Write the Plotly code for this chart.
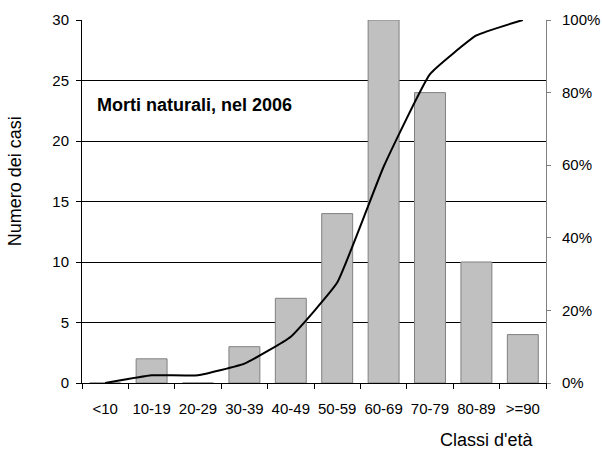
import numpy as np
import plotly.graph_objects as go

# Age classes and number of natural deaths in 2006
classi = ["<10", "10-19", "20-29", "30-39", "40-49", "50-59", "60-69", "70-79", "80-89", ">=90"]
casi = [0, 2, 0, 3, 7, 14, 30, 24, 10, 4]

# Cumulative share of cases
cumulata = np.cumsum(casi) / np.sum(casi)

FONT = "Liberation Sans, Arial, sans-serif"

fig = go.Figure()

fig.add_trace(go.Bar(
    x=classi, y=casi,
    marker=dict(color="#c0c0c0", line=dict(color="#808080", width=1)),
    showlegend=False, hoverinfo="x+y",
))

fig.add_trace(go.Scatter(
    x=classi, y=cumulata, yaxis="y2", mode="lines",
    line=dict(color="black", width=2, shape="spline", smoothing=0.35),
    showlegend=False,
))

fig.update_layout(
    width=602, height=464,
    margin=dict(l=82, r=56, t=20, b=81),
    paper_bgcolor="white", plot_bgcolor="white",
    font=dict(family=FONT, size=15, color="black"),
    bargap=0.333,
    xaxis=dict(
        type="category", showline=True, linecolor="black", linewidth=1,
        ticks="outside", tickson="boundaries", ticklen=5, tickcolor="black",
        showgrid=False, ticklabelstandoff=12, tickangle=0, automargin=False,
        tickfont=dict(size=15),
    ),
    yaxis=dict(
        range=[0, 30], dtick=5, showline=True, linecolor="black", linewidth=1,
        ticks="outside", ticklen=5, tickcolor="black", automargin=False,
        showgrid=True, gridcolor="black", gridwidth=1, zeroline=False,
        ticklabelstandoff=4,
    ),
    yaxis2=dict(
        range=[0, 1], dtick=0.2, tickformat=".0%", overlaying="y", side="right",
        showline=True, linecolor="#808080", linewidth=1, automargin=False,
        ticks="outside", ticklen=4, tickcolor="#808080",
        showgrid=False, zeroline=False, ticklabelstandoff=8,
    ),
    annotations=[
        dict(text="<b>Morti naturali, nel 2006</b>", xref="paper", yref="paper",
             x=0.028, y=0.767, xanchor="left", yanchor="middle", showarrow=False,
             font=dict(size=18)),
        dict(text="Numero dei casi", xref="paper", yref="paper", textangle=-90,
             x=-0.144, y=0.556, xanchor="center", yanchor="middle", showarrow=False,
             font=dict(size=18)),
        dict(text="Classi d'età", xref="paper", yref="paper",
             x=0.976, y=-0.157, xanchor="right", yanchor="middle", showarrow=False,
             font=dict(size=18)),
    ],
)

fig.write_html("out.html")
